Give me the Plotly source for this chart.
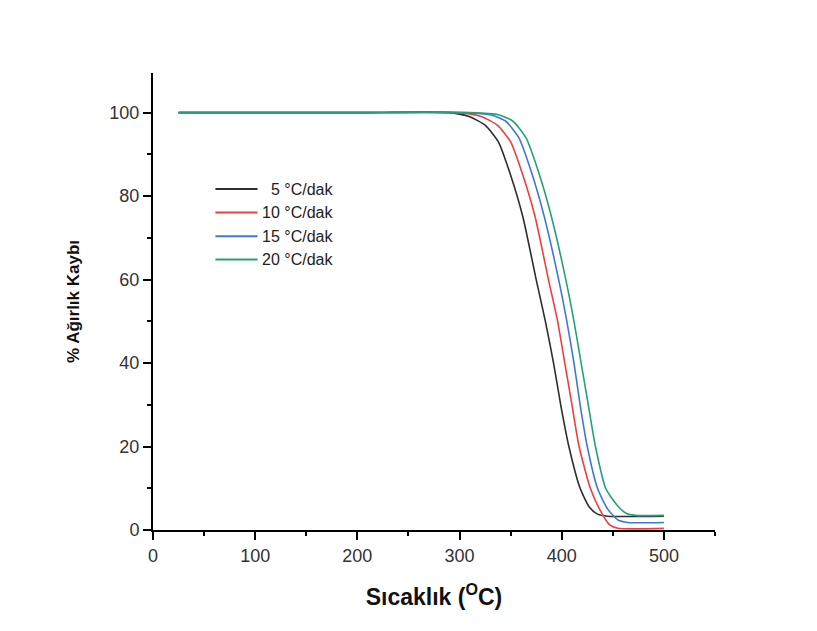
import plotly.graph_objects as go

# TGA curves: temperature (°C) vs. remaining weight (%) at four heating rates
temp_5 = [25, 100, 200, 290, 310, 325, 338, 350, 362, 375, 384, 392, 399, 407, 418, 427, 435, 445, 500]
wt_5 = [100, 100, 100, 100, 99, 97, 93, 85, 75, 60, 50, 40, 30, 20, 10, 5.5, 3.8, 3.3, 3.3]

temp_10 = [25, 100, 200, 300, 322, 337, 350, 362, 374, 387, 396, 403, 410, 417, 428, 437, 447, 455, 500]
wt_10 = [100, 100, 100, 100, 99, 97, 93, 85, 75, 60, 50, 40, 30, 20, 10, 5, 1.2, 0.4, 0.4]

temp_15 = [25, 100, 200, 305, 330, 345, 358, 370, 383, 397, 405, 412, 418, 425, 435, 445, 455, 465, 500]
wt_15 = [100, 100, 100, 100, 99.5, 98, 94, 86, 75, 60, 50, 40, 30, 20, 10, 5, 2.4, 1.8, 1.8]

temp_20 = [25, 100, 200, 310, 338, 352, 365, 377, 390, 404, 412, 419, 426, 433, 443, 454, 463, 472, 500]
wt_20 = [100, 100, 100, 100, 99.5, 98, 94, 86, 75, 60, 50, 40, 30, 20, 10, 6, 4, 3.5, 3.5]

series_names = ["\u20075 °C/dak", "10 °C/dak", "15 °C/dak", "20 °C/dak"]
series_colors = ["#2e2e2e", "#ec4040", "#4078d4", "#26a07a"]
series_temps = [temp_5, temp_10, temp_15, temp_20]
series_wts = [wt_5, wt_10, wt_15, wt_20]

fig = go.Figure()
for name, color, xs, ys in zip(series_names, series_colors, series_temps, series_wts):
    fig.add_trace(go.Scatter(
        x=xs, y=ys, mode="lines", name=name,
        line=dict(color=color, width=1.6, shape="spline", smoothing=0.6),
        showlegend=False,
    ))

# Hand-placed legend block (longer line samples than the built-in legend)
leg_rows = [0.746, 0.695, 0.643, 0.592]
for name, color, yy in zip(series_names, series_colors, leg_rows):
    fig.add_shape(type="line", xref="paper", yref="paper",
                  x0=0.111, x1=0.186, y0=yy, y1=yy,
                  line=dict(color=color, width=2))
    fig.add_annotation(xref="paper", yref="paper", x=0.191, y=yy,
                       text=name, showarrow=False, xanchor="left", yanchor="middle",
                       font=dict(family="Liberation Sans, Arial", size=16, color="#222"))

axis_font = dict(family="Liberation Sans, Arial", size=18, color="#333")
fig.update_xaxes(
    range=[0, 550], tickvals=[0, 100, 200, 300, 400, 500],
    showline=True, linecolor="black", linewidth=2,
    ticks="outside", ticklen=8, tickwidth=2, tickcolor="black",
    minor=dict(ticks="outside", ticklen=4, tickwidth=2, tickcolor="black", dtick=50, showgrid=False),
    showgrid=False, zeroline=False, tickfont=axis_font,
    title=dict(text="Sıcaklık (<sup>O</sup>C)", standoff=24,
               font=dict(family="Liberation Sans, Arial", size=23, color="#111", weight="bold")),
)
fig.update_yaxes(
    range=[0, 109.5], tickvals=[0, 20, 40, 60, 80, 100],
    showline=True, linecolor="black", linewidth=2,
    ticks="outside", ticklen=8, tickwidth=2, tickcolor="black",
    minor=dict(ticks="outside", ticklen=4, tickwidth=2, tickcolor="black", dtick=10, showgrid=False),
    showgrid=False, zeroline=False, tickfont=axis_font,
    title=dict(text="% Ağırlık Kaybı", standoff=25,
               font=dict(family="Liberation Sans, Arial", size=17, color="#111", weight="bold")),
)

fig.update_layout(
    width=817, height=631,
    margin=dict(l=153, r=102, t=73, b=101),
    paper_bgcolor="white", plot_bgcolor="white",
)

fig.write_html("out.html")
